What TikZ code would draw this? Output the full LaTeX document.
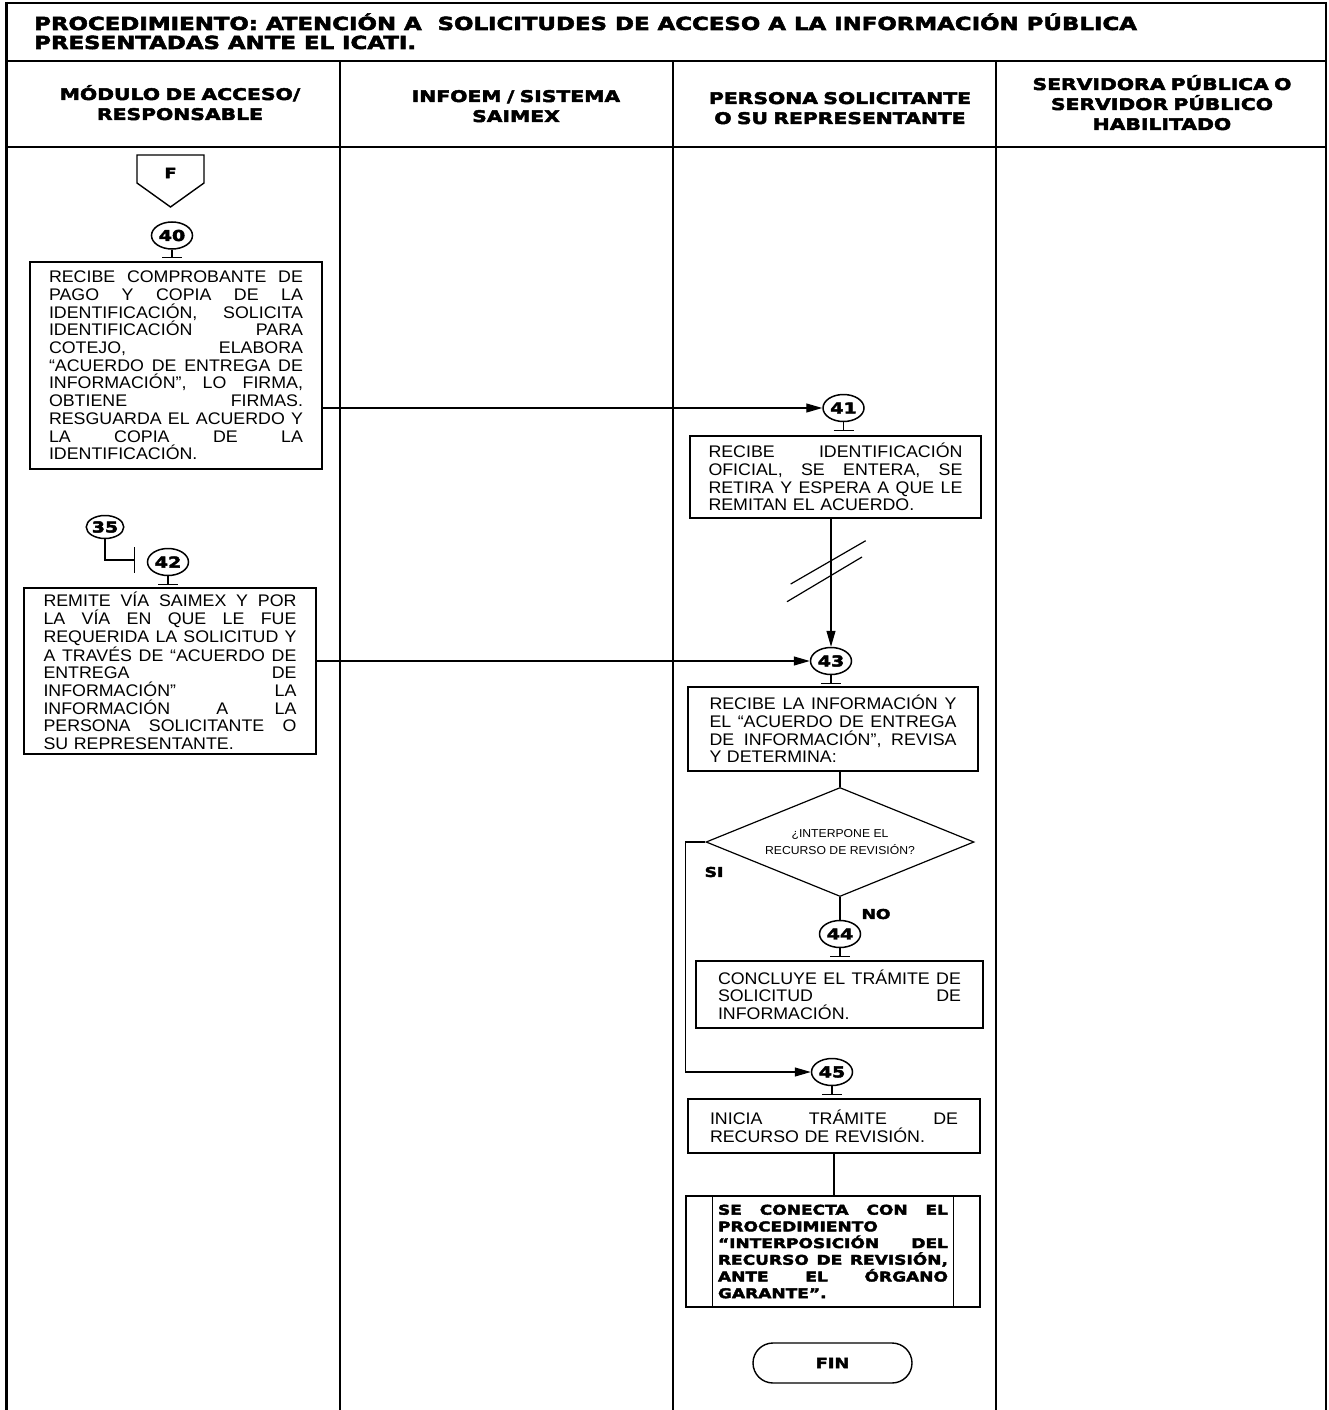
\documentclass[tikz,border=0pt]{standalone}
\usepackage{fontspec}
\setmainfont[FakeStretch=1.06]{Liberation Sans}
\newfontfamily\heavyfont[FakeStretch=1.27,FakeBold=3]{DejaVu Sans}
\usetikzlibrary{shapes.geometric,arrows.meta,calc}
\newcommand\J[1]{\makebox[\hsize][s]{\spaceskip=.3em plus 1fil\xspaceskip=.3em plus 1fil\relax #1}}
\newcommand\hv[1]{\heavyfont\bfseries\fontsize{#1}{20}\selectfont}
\newcommand\stem[1]{\draw[link] (#1.south) -- ++(0,8) ++(-10,0) -- ++(20,0);}
\begin{document}
\begin{tikzpicture}[x=1pt,y=-1pt,
  lane/.style={line width=2.3pt},
  rule/.style={line width=2pt},
  link/.style={line width=1.2pt},
  arr/.style={link,-{Triangle[length=16pt,width=9pt]}},
  proc/.style={draw,line width=1.2pt,inner sep=0pt,align=left,font=\fontsize{16.8}{17.7}\selectfont},
  conn/.style={draw,ellipse,line width=1.5pt,minimum width=41pt,minimum height=27pt,inner sep=0pt,font=\hv{15}},
  hdr/.style={text width=330pt,align=center,inner sep=0pt,anchor=base,font=\hv{16}},
  ttl/.style={anchor=base west,inner sep=0pt,font=\hv{18}},
  lbl/.style={inner sep=0pt,font=\hv{13.5}}
]
\useasboundingbox (0,0) rectangle (1328,1410);
\fill[white] (0,0) rectangle (1328,1410);
% frame
\draw[rule] (6.5,3) -- (1326,3);
\draw[lane] (6.5,2) -- (6.5,1410);
\draw[lane] (1326,2) -- (1326,1410);
\draw[rule] (6.5,61) -- (1326,61);
\draw[rule] (6.5,147) -- (1326,147);
\draw[lane] (340,61) -- (340,1410);
\draw[lane] (673,61) -- (673,1410);
\draw[lane] (996,61) -- (996,1410);
% title
\node[ttl] (t1) at (34,30) {PROCEDIMIENTO: ATENCIÓN A\ \ SOLICITUDES DE ACCESO A LA INFORMACIÓN PÚBLICA};
\node[ttl] (t2) at (34,49) {PRESENTADAS ANTE EL ICATI.};
% lane headers
\node[hdr] (h1) at (180,100) {MÓDULO DE ACCESO/\\RESPONSABLE};
\node[hdr] (h2) at (516,102) {INFOEM / SISTEMA\\SAIMEX};
\node[hdr] (h3) at (840,104) {PERSONA SOLICITANTE\\O SU REPRESENTANTE};
\node[hdr] (h4) at (1162,90) {SERVIDORA PÚBLICA O\\SERVIDOR PÚBLICO\\HABILITADO};
% off-page connector F
\node[lbl,font=\hv{14}] (F) at (170.5,173) {F};
\draw[link,line width=1.4pt] (137,155) -- (204,155) -- (204,183) -- (170.5,207) -- (137,183) -- cycle;
% step 40
\node[conn] (c40) at (172,235.5) {40};
\stem{c40}
\node[proc,text width=254pt,minimum width=292pt,minimum height=207pt] (b40) at (176,365.5)
 {\J{RECIBE COMPROBANTE DE}\\\J{PAGO Y COPIA DE LA}\\\J{IDENTIFICACIÓN, SOLICITA}\\\J{IDENTIFICACIÓN PARA}\\\J{COTEJO, ELABORA}\\\J{“ACUERDO DE ENTREGA DE}\\\J{INFORMACIÓN”, LO FIRMA,}\\\J{OBTIENE FIRMAS.}\\\J{RESGUARDA EL ACUERDO Y}\\\J{LA COPIA DE LA}\\IDENTIFICACIÓN.};
% step 41
\node[conn] (c41) at (843.5,408) {41};
\stem{c41}
\node[proc,text width=254pt,minimum width=291pt,minimum height=82pt] (b41) at (835.5,477)
 {\J{RECIBE IDENTIFICACIÓN}\\\J{OFICIAL, SE ENTERA, SE}\\\J{RETIRA Y ESPERA A QUE LE}\\REMITAN EL ACUERDO.};
\draw[arr] (b40.east |- c41) -- (c41.west);
% step 35 -> 42
\node[conn,minimum width=37pt,minimum height=23pt] (c35) at (105,527) {35};
\coordinate (j42) at (135,560);
\draw[link,-{Bar[width=26pt]}] (c35.south) |- (j42);
\node[conn] (c42) at (168,562) {42};
\stem{c42}
\node[proc,text width=253pt,minimum width=292pt,minimum height=166pt] (b42) at (170,671)
 {\J{REMITE VÍA SAIMEX Y POR}\\\J{LA VÍA EN QUE LE FUE}\\\J{REQUERIDA LA SOLICITUD Y}\\\J{A TRAVÉS DE “ACUERDO DE}\\\J{ENTREGA DE}\\\J{INFORMACIÓN” LA}\\\J{INFORMACIÓN A LA}\\\J{PERSONA SOLICITANTE O}\\SU REPRESENTANTE.};
% step 43
\node[conn] (c43) at (831,661) {43};
\stem{c43}
\draw[arr] (b42.east |- c43) -- (c43.west);
\draw[arr] (c43 |- b41.south) -- (c43.north);
\draw[link] (790.7,584) -- (865.7,540.7);
\draw[link] (787,601.7) -- (862,557);
\node[proc,text width=247pt,minimum width=290pt,minimum height=84pt] (b43) at (833,729)
 {\J{RECIBE LA INFORMACIÓN Y}\\\J{EL “ACUERDO DE ENTREGA}\\\J{DE INFORMACIÓN”, REVISA}\\Y DETERMINA:};
% decision
\node[draw,diamond,aspect=2.46,line width=1.2pt,minimum width=268pt,minimum height=109pt,inner sep=0pt,align=center,font=\fontsize{11.5}{17}\selectfont] (dia) at (840,842) {¿INTERPONE EL\\RECURSO DE REVISIÓN?};
\draw[link] (dia.north |- b43.south) -- (dia.north);
\node[lbl] (si) at (714,872) {SI};
\node[lbl] (no) at (876,914) {NO};
% step 44
\node[conn] (c44) at (840,934) {44};
\stem{c44}
\draw[link] (dia.south) -- (c44.north);
\node[proc,text width=243pt,minimum width=287pt,minimum height=67pt] (b44) at (839.5,994.5)
 {\J{CONCLUYE EL TRÁMITE DE}\\\J{SOLICITUD DE}\\INFORMACIÓN.};
% step 45
\node[conn] (c45) at (832,1072) {45};
\stem{c45}
\draw[arr] (dia.west) -- ++(-20,0) |- (c45.west);
\node[proc,text width=248pt,minimum width=292pt,minimum height=54pt] (b45) at (834,1126)
 {\J{INICIA TRÁMITE DE}\\RECURSO DE REVISIÓN.};
% connection to other procedure
\node[proc,text width=230pt,minimum width=294pt,minimum height=111pt,font=\heavyfont\bfseries\fontsize{13.4}{16.7}\selectfont] (b46) at (833,1251.5)
 {\J{SE CONECTA CON EL}\\PROCEDIMIENTO\\\J{“INTERPOSICIÓN DEL}\\\J{RECURSO DE REVISIÓN,}\\\J{ANTE EL ÓRGANO}\\GARANTE”.};
\draw[link] ($(b46.north west)+(27,0)$) -- ($(b46.south west)+(27,0)$);
\draw[link] ($(b46.north east)+(-27,0)$) -- ($(b46.south east)+(-27,0)$);
\draw[link] (b45.south) -- (b45.south |- b46.north);
% end
\node[draw,line width=1.4pt,rounded corners=20pt,minimum width=159pt,minimum height=40pt,font=\hv{14}] (fin) at (832.5,1363) {FIN};
\end{tikzpicture}
\end{document}
